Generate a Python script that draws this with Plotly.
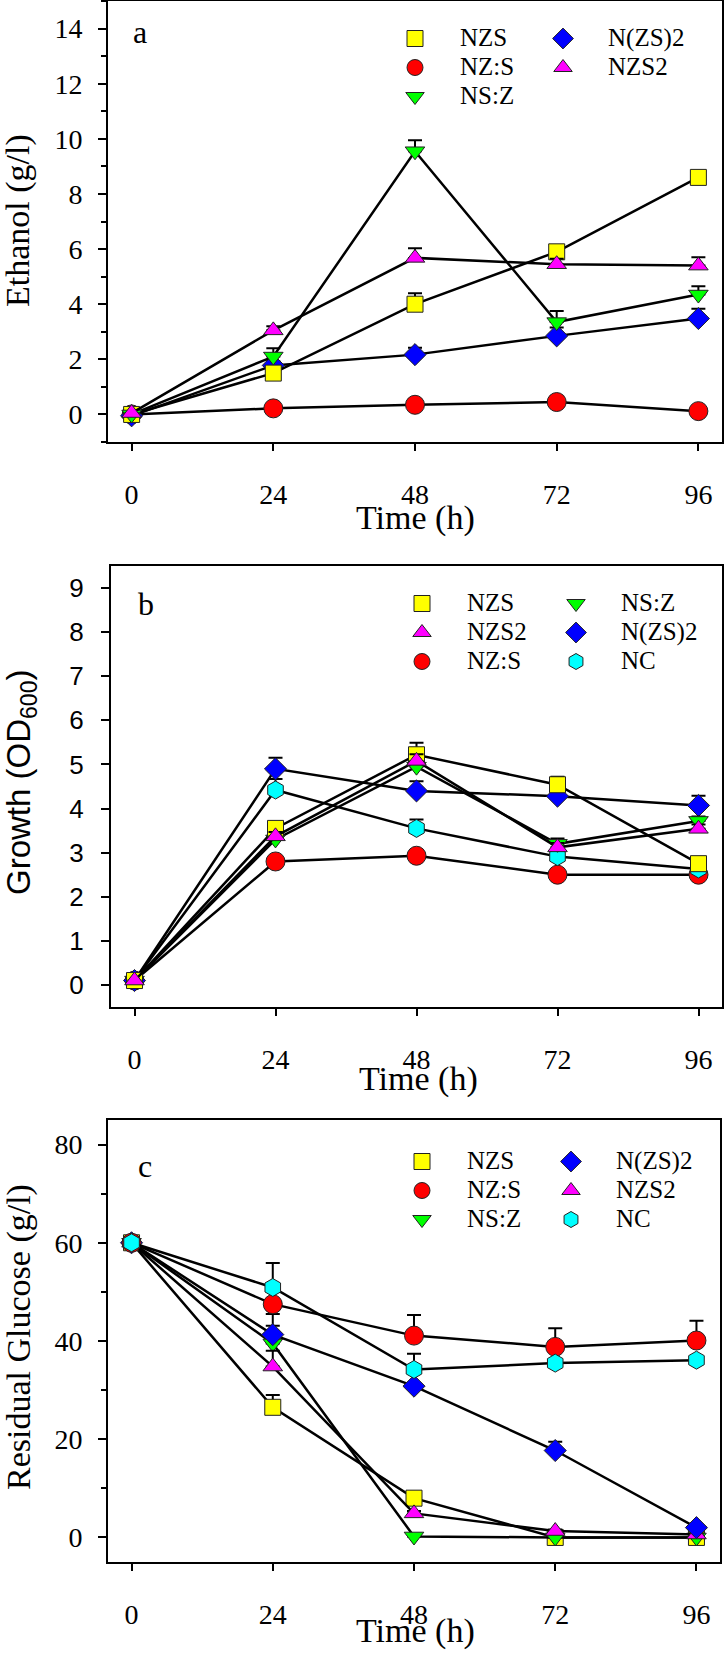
import plotly.graph_objects as go

# sampling times (h)
time_h = [0, 24, 48, 72, 96]
time_ticks = [0, 24, 48, 72, 96]

# panel a - ethanol (g/l), mean and upper error
eth_nzs = [0.0, 1.5, 4.0, 5.9, 8.6]
eth_nzs_err = [0.0, 0.15, 0.4, 0.25, 0.15]
eth_nz_s = [0.0, 0.22, 0.35, 0.45, 0.12]
eth_nz_s_err = [0.0, 0.05, 0.05, 0.05, 0.05]
eth_ns_z = [0.0, 2.1, 9.55, 3.35, 4.35]
eth_ns_z_err = [0.0, 0.3, 0.4, 0.4, 0.3]
eth_n_zs2 = [-0.05, 1.78, 2.17, 2.85, 3.48]
eth_n_zs2_err = [0.0, 0.15, 0.25, 0.3, 0.35]
eth_nzs2 = [0.05, 3.05, 5.68, 5.45, 5.4]
eth_nzs2_err = [0.0, 0.15, 0.35, 0.2, 0.3]

# panel b - growth (OD600)
gr_nzs = [0.1, 3.55, 5.22, 4.54, 2.75]
gr_nzs_err = [0.0, 0.1, 0.27, 0.18, 0.1]
gr_ns_z = [0.1, 3.3, 4.95, 3.2, 3.72]
gr_ns_z_err = [0.0, 0.1, 0.1, 0.12, 0.1]
gr_nzs2 = [0.1, 3.37, 5.08, 3.12, 3.54]
gr_nzs2_err = [0.0, 0.1, 0.15, 0.1, 0.1]
gr_n_zs2 = [0.1, 4.9, 4.4, 4.28, 4.07]
gr_n_zs2_err = [0.0, 0.25, 0.22, 0.12, 0.22]
gr_nz_s = [0.1, 2.8, 2.93, 2.5, 2.5]
gr_nz_s_err = [0.0, 0.05, 0.05, 0.05, 0.05]
gr_nc = [0.1, 4.42, 3.55, 2.91, 2.63]
gr_nc_err = [0.0, 0.25, 0.2, 0.1, 0.1]

# panel c - residual glucose (g/l)
gl_nzs = [60.0, 26.5, 8.0, 0.0, 0.0]
gl_nzs_err = [0.0, 2.5, 0.5, 0.3, 0.3]
gl_nz_s = [60.0, 47.5, 41.1, 38.8, 40.1]
gl_nz_s_err = [0.0, 1.0, 4.2, 3.8, 4.0]
gl_ns_z = [60.0, 39.5, 0.2, 0.0, 0.0]
gl_ns_z_err = [0.0, 6.0, 0.3, 0.3, 0.3]
gl_n_zs2 = [60.0, 41.3, 30.8, 17.7, 2.0]
gl_n_zs2_err = [0.0, 1.8, 0.5, 1.8, 0.5]
gl_nzs2 = [60.0, 34.8, 4.9, 1.3, 0.6]
gl_nzs2_err = [0.0, 3.2, 0.5, 0.3, 0.3]
gl_nc = [60.0, 50.9, 34.2, 35.5, 36.1]
gl_nc_err = [0.0, 5.0, 3.2, 0.5, 0.5]

# marker style for each strain: symbol, fill, size
styles = {
    'NZS': ('square', '#FFFF00', 16),
    'NZ:S': ('circle', '#FF0000', 19),
    'NS:Z': ('triangle-down', '#00FF00', 17),
    'N(ZS)2': ('diamond', '#0000FF', 17),
    'NZS2': ('triangle-up', '#FF00FF', 17),
    'NC': ('hexagon', '#00FFFF', 18),
}

SERIF = 'Liberation Serif'
SANS = 'Liberation Sans'
W, H = 724, 1655


def fx(p):
    # pixel -> paper x
    return p / W


def fy(p):
    # pixel -> paper y
    return 1 - p / H


def marker(name):
    sym, col, size = styles[name]
    return dict(symbol=sym, color=col, size=size, line=dict(color='#222222', width=1))


def add_panel(fig, n, series, legend_cols):
    ax = '' if n == 1 else str(n)
    for name, vals, err in series:
        fig.add_trace(go.Scatter(
            x=time_h, y=vals, mode='lines+markers', name=name, showlegend=False,
            line=dict(color='black', width=2.5),
            marker=marker(name),
            error_y=dict(type='data', array=err, arrayminus=[0] * len(err), symmetric=False,
                         color='black', thickness=2, width=7),
            xaxis='x' + ax, yaxis='y' + ax,
        ))
    # legend-only entries (markers without line); bigger text than the row pitch
    for legend_id, names in legend_cols:
        for name in names:
            fig.add_trace(go.Scatter(
                x=[None], y=[None], mode='markers', marker=marker(name),
                name='<span style="font-size:25px">' + name + '</span>',
                legend=legend_id, xaxis='x' + ax, yaxis='y' + ax,
            ))


def main():
    fig = go.Figure()

    add_panel(fig, 1, [
        ('NZ:S', eth_nz_s, eth_nz_s_err),
        ('N(ZS)2', eth_n_zs2, eth_n_zs2_err),
        ('NZS', eth_nzs, eth_nzs_err),
        ('NS:Z', eth_ns_z, eth_ns_z_err),
        ('NZS2', eth_nzs2, eth_nzs2_err),
    ], [('legend', ['NZS', 'NZ:S', 'NS:Z']), ('legend2', ['N(ZS)2', 'NZS2'])])

    add_panel(fig, 2, [
        ('NZ:S', gr_nz_s, gr_nz_s_err),
        ('NC', gr_nc, gr_nc_err),
        ('N(ZS)2', gr_n_zs2, gr_n_zs2_err),
        ('NS:Z', gr_ns_z, gr_ns_z_err),
        ('NZS', gr_nzs, gr_nzs_err),
        ('NZS2', gr_nzs2, gr_nzs2_err),
    ], [('legend3', ['NZS', 'NZS2', 'NZ:S']), ('legend4', ['NS:Z', 'N(ZS)2', 'NC'])])

    add_panel(fig, 3, [
        ('NZS', gl_nzs, gl_nzs_err),
        ('NS:Z', gl_ns_z, gl_ns_z_err),
        ('NZS2', gl_nzs2, gl_nzs2_err),
        ('N(ZS)2', gl_n_zs2, gl_n_zs2_err),
        ('NZ:S', gl_nz_s, gl_nz_s_err),
        ('NC', gl_nc, gl_nc_err),
    ], [('legend5', ['NZS', 'NZ:S', 'NS:Z']), ('legend6', ['N(ZS)2', 'NZS2', 'NC'])])

    # common axis look: boxed frame, ticks outside on left/bottom only
    frame = dict(showline=True, linecolor='black', linewidth=2, mirror=True,
                 showgrid=False, zeroline=False, ticks='outside', tickcolor='black',
                 tickwidth=2, ticklen=8)
    xaxis = dict(frame, range=[-4, 100], tickvals=time_ticks, ticklen=7,
                 ticklabelstandoff=19, tickfont=dict(family=SERIF, size=28, color='black'))

    # panel frames in pixels: (left, right, top, bottom)
    boxes = [(108, 722, 1, 442), (111, 722, 566, 1007), (108, 720, 1120, 1562)]

    layout = dict(
        width=W, height=H, margin=dict(l=0, r=0, t=0, b=0), autosize=False,
        paper_bgcolor='white', plot_bgcolor='white', showlegend=True,
    )
    for i, (l, r, t, b) in enumerate(boxes):
        ax = '' if i == 0 else str(i + 1)
        layout['xaxis' + ax] = dict(xaxis, domain=[fx(l), fx(r)], anchor='y' + ax)
        layout['yaxis' + ax] = dict(frame, domain=[fy(b), fy(t)], anchor='x' + ax,
                                    ticklabelstandoff=10)

    layout['yaxis'].update(range=[-1, 15], dtick=2, tick0=0,
                           tickfont=dict(family=SERIF, size=28, color='black'),
                           minor=dict(dtick=1, ticks='outside', ticklen=5, tickcolor='black', tickwidth=2))
    layout['yaxis2'].update(range=[-0.5, 9.5], dtick=1, tick0=0, ticklabelstandoff=12,
                            tickfont=dict(family=SANS, size=26, color='black'))
    layout['yaxis3'].update(range=[-5, 85], dtick=20, tick0=0,
                            tickfont=dict(family=SERIF, size=28, color='black'),
                            minor=dict(dtick=10, ticks='outside', ticklen=5, tickcolor='black', tickwidth=2))

    # legends, two columns per panel (left edge, top edge in pixels)
    leg_pos = {'legend': (370, 19), 'legend2': (518, 19),
               'legend3': (377, 584), 'legend4': (531, 584),
               'legend5': (377, 1142), 'legend6': (526, 1142)}
    for lid, (lx, ly) in leg_pos.items():
        layout[lid] = dict(x=fx(lx), y=fy(ly), xanchor='left', yanchor='top',
                           bgcolor='rgba(0,0,0,0)', borderwidth=0, itemwidth=80,
                           tracegroupgap=0, itemclick=False, itemdoubleclick=False,
                           font=dict(family=SERIF, size=20, color='black'))

    fig.update_layout(**layout)

    # panel letters and axis titles
    notes = [
        ('a', 140, 32, 0, SERIF, 32),
        ('b', 146, 604, 0, SERIF, 32),
        ('c', 145, 1166, 0, SERIF, 32),
        ('Time (h)', 415, 518, 0, SERIF, 34),
        ('Time (h)', 418, 1079, 0, SERIF, 34),
        ('Time (h)', 415, 1631, 0, SERIF, 34),
        ('Ethanol (g/l)', 18, 221, -90, SERIF, 34),
        ('Growth (OD<sub>600</sub>)', 21, 782, -90, SANS, 33),
        ('Residual Glucose (g/l)', 19, 1337, -90, SERIF, 34),
    ]
    for text, x, y, ang, fam, size in notes:
        fig.add_annotation(text=text, x=fx(x), y=fy(y), xref='paper', yref='paper',
                           xanchor='center', yanchor='middle', textangle=ang, showarrow=False,
                           font=dict(family=fam, size=size, color='black'))

    # the page body has a default 8px margin; drop it so the figure fills the window
    fig.write_html('out.html', config={'displayModeBar': False},
                   post_script="document.body.style.margin='0';")
    return fig


if __name__ == '__main__':
    main()
